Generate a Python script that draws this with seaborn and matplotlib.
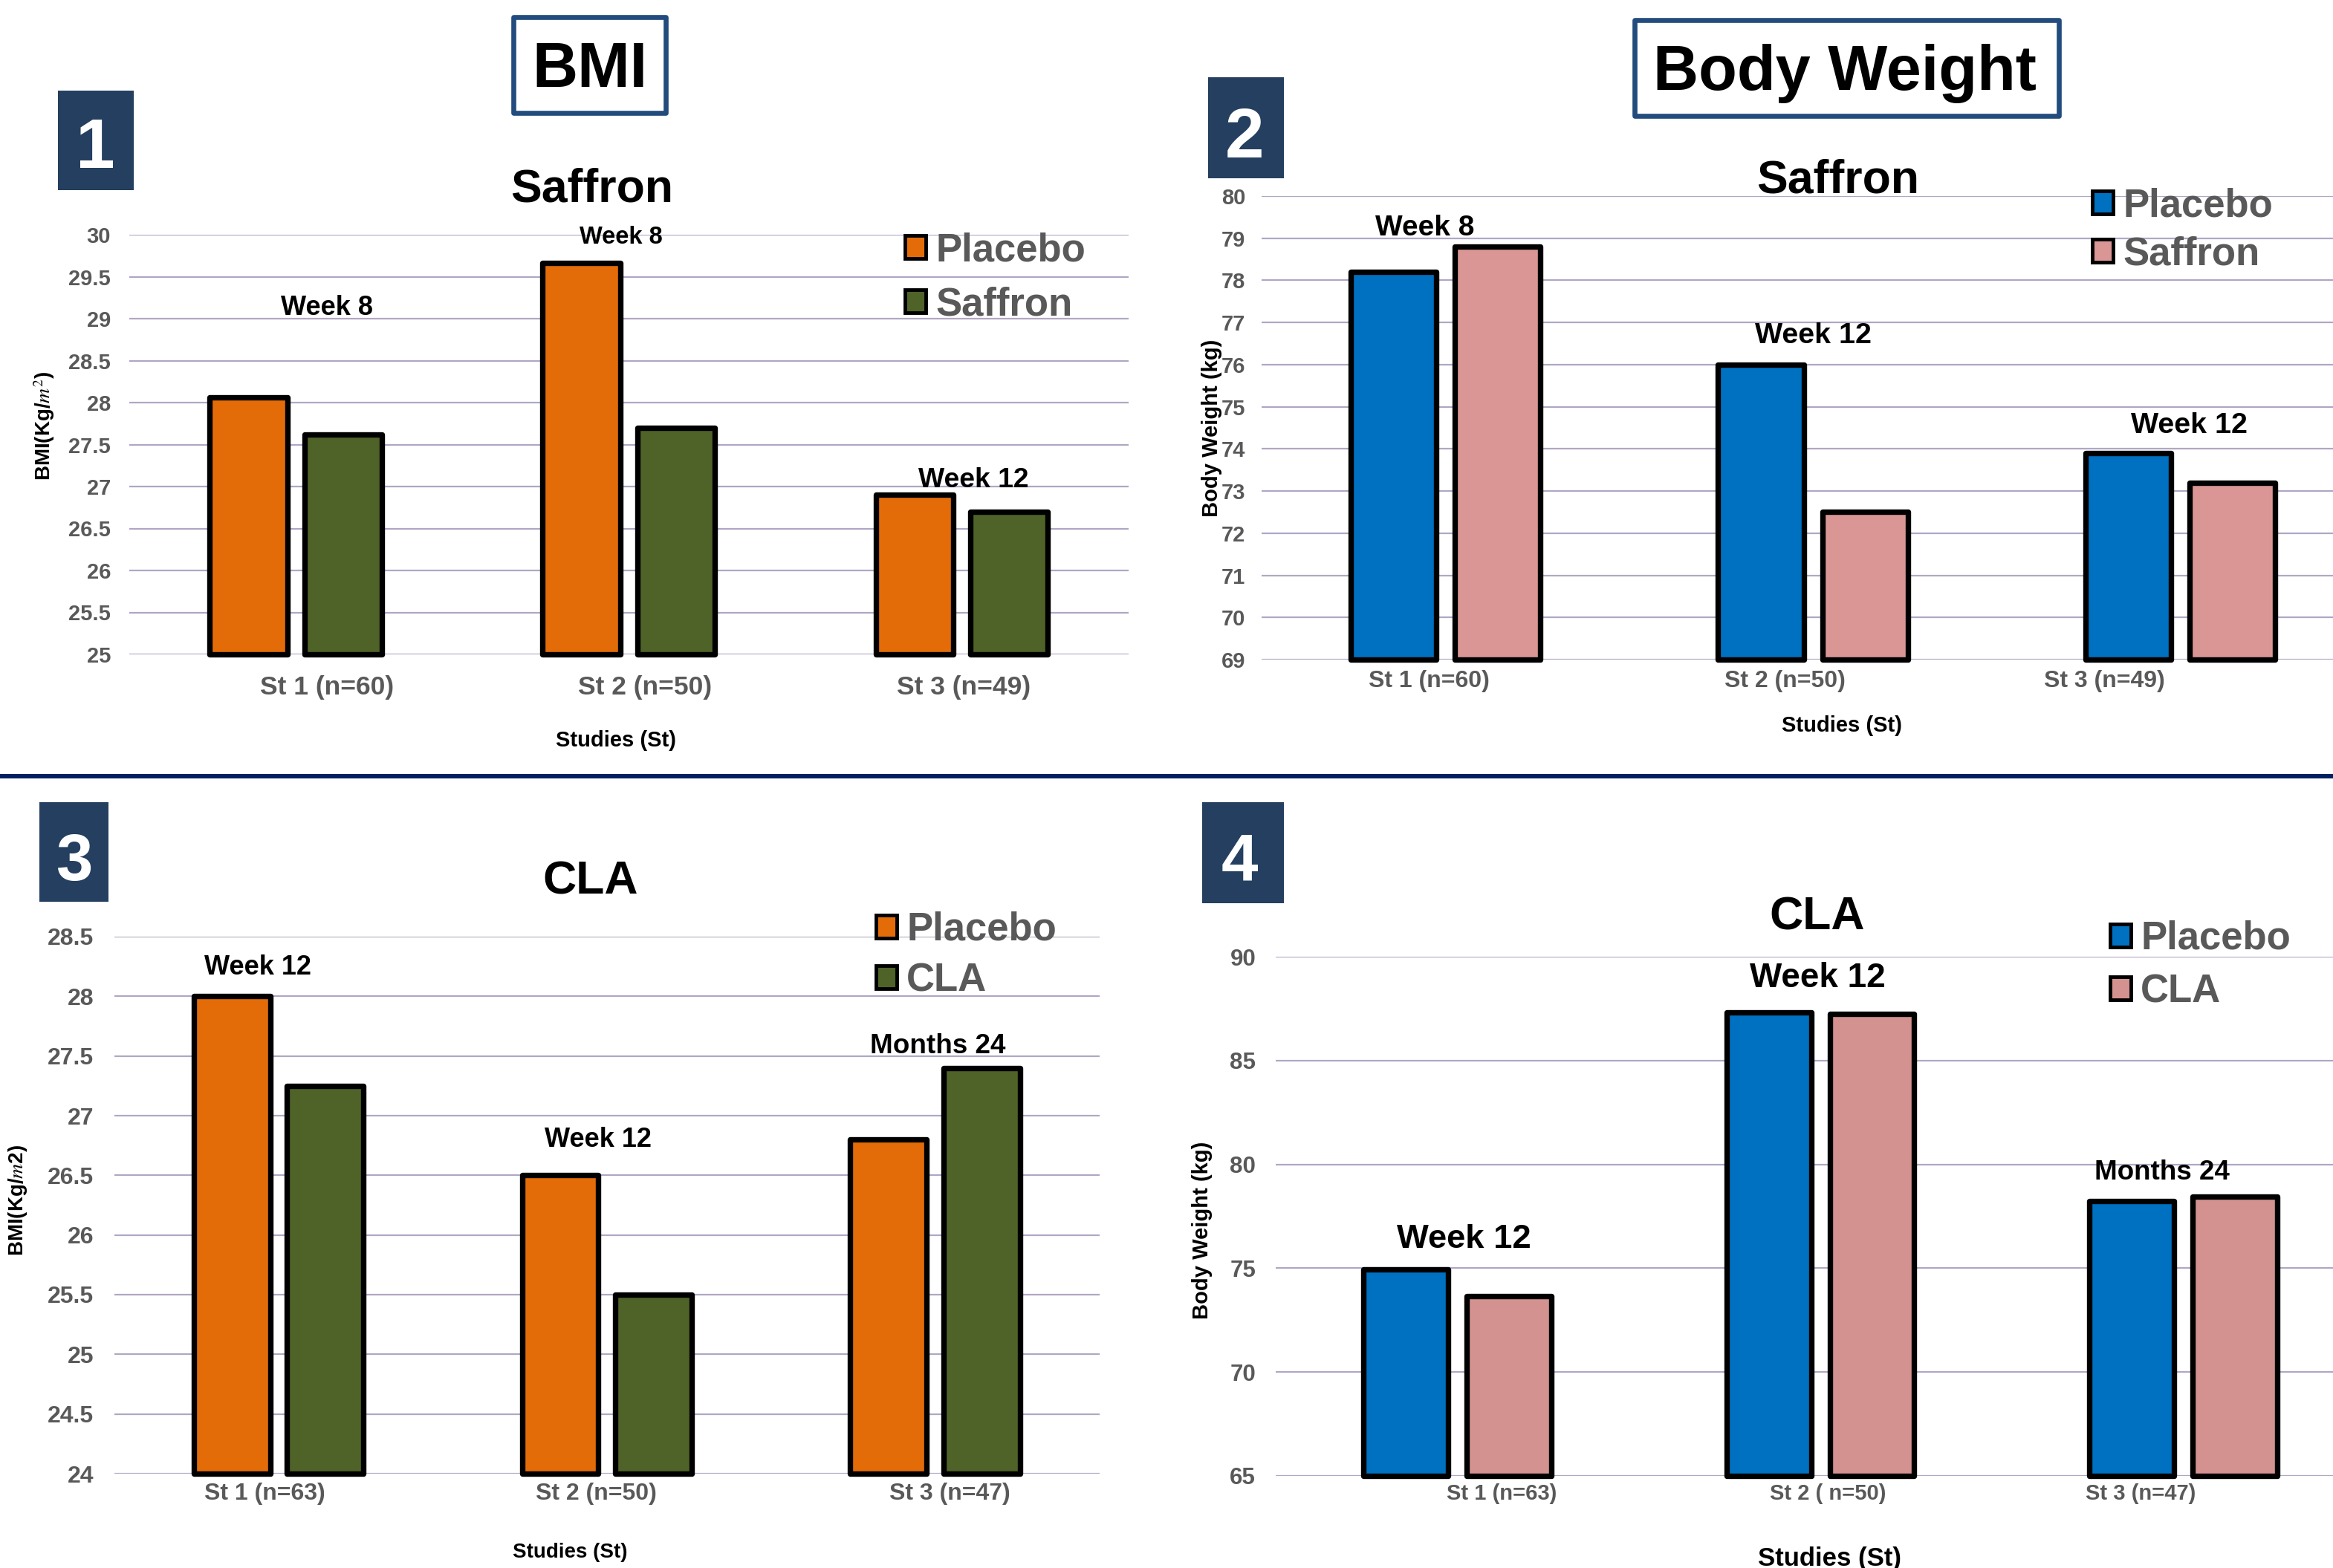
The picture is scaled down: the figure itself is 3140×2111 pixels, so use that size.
import numpy as np
import pandas as pd
import matplotlib
matplotlib.use("Agg")
import matplotlib.pyplot as plt
import matplotlib.transforms as mtransforms
from matplotlib.patches import Rectangle, Patch
from matplotlib.lines import Line2D
from matplotlib.ticker import FuncFormatter
import seaborn as sns

# ---------------------------------------------------------------- data
studies_saffron = ["St 1 (n=60)", "St 2 (n=50)", "St 3 (n=49)"]
bmi_saffron_placebo = [28.06, 29.66, 26.90]
bmi_saffron_treated = [27.62, 27.70, 26.70]
bmi_saffron_periods = ["Week 8", "Week 8", "Week 12"]

bw_saffron_placebo = [78.2, 76.0, 73.9]
bw_saffron_treated = [78.8, 72.5, 73.2]
bw_saffron_periods = ["Week 8", "Week 12", "Week 12"]

studies_cla_bmi = ["St 1 (n=63)", "St 2 (n=50)", "St 3 (n=47)"]
bmi_cla_placebo = [28.0, 26.5, 26.8]
bmi_cla_treated = [27.25, 25.5, 27.4]
bmi_cla_periods = ["Week 12", "Week 12", "Months 24"]

studies_cla_bw = ["St 1 (n=63)", "St 2 ( n=50)", "St 3 (n=47)"]
bw_cla_placebo = [74.95, 87.3, 78.25]
bw_cla_treated = [73.65, 87.25, 78.45]
bw_cla_periods = ["Week 12", "Week 12", "Months 24"]

# ---------------------------------------------------------------- style
sns.set_style("white")
plt.rcParams["font.family"] = ["Liberation Sans", "DejaVu Sans"]
plt.rcParams["mathtext.fontset"] = "stix"

W, H, DPI = 3140, 2111, 100
GRID = "#B0A7C4"
TICK = "#595959"
NAVY = "#243F60"
ORANGE, GREEN = "#E36C09", "#4F6228"
BLUE, PINK, PINK2 = "#0070C0", "#D99694", "#D3918F"


def fx(px):
    return px / W


def fy(py):
    return 1 - py / H


fig = plt.figure(figsize=(W / DPI, H / DPI), dpi=DPI)
fig.patch.set_facecolor("white")


def px_shift(dx):
    return mtransforms.ScaledTranslation(dx / DPI, 0, fig.dpi_scale_trans)


def panel(rect, xright, studies, placebo, treated, treat_name, colors,
          ylim, ystep, ytick_size, ytick_pad, xtick_size, xtick_pad,
          xtick_dx, ylabel, ylabel_size, ylabel_xy, xlabel_size, xlabel_xy,
          legend_xy, legend_spacing):
    l, t, r, b = rect
    ax = fig.add_axes([fx(l), fy(b), (r - l) / W, (b - t) / H])
    df = pd.DataFrame({
        "Study": list(studies) * 2,
        "Group": ["Placebo"] * len(studies) + [treat_name] * len(studies),
        "Value": list(placebo) + list(treated),
    })
    sns.barplot(data=df, x="Study", y="Value", hue="Group", order=studies,
                hue_order=["Placebo", treat_name], palette=colors,
                saturation=1, width=0.568, gap=0.18, errorbar=None,
                edgecolor="black", linewidth=5.3, legend=False, ax=ax)
    lo, hi = ylim
    # bars start at the bottom of the value axis
    for bar in ax.patches:
        top = bar.get_y() + bar.get_height()
        bar.set_y(lo)
        bar.set_height(top - lo)
        bar.set_clip_on(False)
        bar.set_joinstyle("round")
    ax.set_ylim(lo, hi)
    ax.set_xlim(-0.5, xright)
    ax.set_yticks(np.arange(lo, hi + ystep / 2, ystep))
    ax.yaxis.set_major_formatter(FuncFormatter(lambda v, _: f"{v:g}"))
    ax.grid(axis="y", color=GRID, linewidth=1.6)
    ax.grid(axis="x", visible=False)
    ax.set_axisbelow(True)
    for s in ax.spines.values():
        s.set_visible(False)
    ax.tick_params(axis="y", length=0, labelsize=ytick_size,
                   labelcolor=TICK, pad=ytick_pad)
    ax.tick_params(axis="x", length=0, labelsize=xtick_size,
                   labelcolor=TICK, pad=xtick_pad)
    for lbl in ax.get_yticklabels():
        lbl.set_fontweight("bold")
    for lbl, dx in zip(ax.get_xticklabels(), xtick_dx):
        lbl.set_fontweight("bold")
        lbl.set_transform(lbl.get_transform() + px_shift(dx))

    ax.set_ylabel(ylabel, fontsize=ylabel_size, fontweight="bold",
                  color="black")
    ax.yaxis.set_label_coords(fx(ylabel_xy[0]), fy(ylabel_xy[1]),
                              transform=fig.transFigure)
    ax.yaxis.label.set_va("center")
    ax.set_xlabel("Studies (St)", fontsize=xlabel_size, fontweight="bold",
                  color="black")
    ax.xaxis.set_label_coords(fx(xlabel_xy[0]), fy(xlabel_xy[1]),
                              transform=fig.transFigure)
    ax.xaxis.label.set_va("center_baseline")

    handles = [Patch(facecolor=c, edgecolor="black", linewidth=3.5)
               for c in colors]
    ax.legend(handles, ["Placebo", treat_name], loc="upper left",
              bbox_to_anchor=(fx(legend_xy[0] + 2.4), fy(legend_xy[1])),
              bbox_transform=fig.transFigure, frameon=False,
              handlelength=0.53, handleheight=0.53, handletextpad=0.24,
              labelspacing=legend_spacing, borderpad=0, borderaxespad=0,
              prop={"size": 38, "weight": "bold"}, labelcolor=TICK)
    return ax


# Panel 1: BMI, saffron
panel((174, 316, 1518.6, 881), 2.5, studies_saffron,
      bmi_saffron_placebo, bmi_saffron_treated, "Saffron", [ORANGE, GREEN],
      (25, 30), 0.5, 21, 18, 25.5, 20, [42, 22, 3],
      "BMI(Kg/$m^2$)", 20, (60, 573), 21, (829, 994),
      (1216, 312), 0.44)

# Panel 2: body weight, saffron
panel((1698.4, 264, W, 888), (W - 1698.4) / 494.5 - 0.5, studies_saffron,
      bw_saffron_placebo, bw_saffron_treated, "Saffron", [BLUE, PINK],
      (69, 80), 1, 21, 16, 23, 10, [-22, -38, -102],
      "Body Weight (kg)", 21, (1631, 576), 21, (2479, 974),
      (2814, 252), 0.29)

# Panel 3: BMI, CLA
panel((154, 1261, 1479.5, 1984), 2.5, studies_cla_bmi,
      bmi_cla_placebo, bmi_cla_treated, "CLA", [ORANGE, GREEN],
      (24, 28.5), 0.5, 23, 20, 23, 8.6, [-19, -14, 20],
      "BMI(Kg/$m$2)", 20, (24, 1616), 20, (767, 2087),
      (1177, 1227), 0.35)

# Panel 4: body weight, CLA
panel((1717.3, 1288, W, 1987), (W - 1717.3) / 488.5 - 0.5, studies_cla_bw,
      bw_cla_placebo, bw_cla_treated, "CLA", [BLUE, PINK2],
      (65, 90), 5, 22.5, 19.5, 21, 7, [60, 10, -57],
      "Body Weight (kg)", 21, (1618, 1656), 25, (2463, 2095),
      (2838, 1239), 0.41)

# ---------------------------------------------------------------- text
def label(x, y, s, size, color="black"):
    fig.text(fx(x), fy(y), s, ha="center", va="center_baseline",
             fontsize=size, fontweight="bold", color=color)


# panel titles
label(797, 249, "Saffron", 45)
label(2474, 236, "Saffron", 45)
label(795, 1181, "CLA", 45)
label(2446, 1229, "CLA", 45)

# study-duration notes above the bar pairs
for (x, y, s), size in zip(zip([440, 836, 1310], [411, 316, 642],
                               bmi_saffron_periods), [26, 23.5, 26.8]):
    label(x, y, s, size)
for (x, y, s), size in zip(zip([1918, 2440, 2946], [303, 448, 569],
                               bw_saffron_periods), [28, 28.4, 28.4]):
    label(x, y, s, size)
for (x, y, s), size in zip(zip([347, 805, 1262], [1298, 1530, 1404],
                               bmi_cla_periods), [26, 26, 26.6]):
    label(x, y, s, size)
for (x, y, s), size in zip(zip([1970, 2446, 2910], [1664, 1312, 1575],
                               bw_cla_periods), [32.7, 33, 26.5]):
    label(x, y, s, size)

# section headers in outlined boxes
for (x0, y0, x1, y1), s, (tx, ty) in [
        ((691, 23, 896, 152), "BMI", (794, 86)),
        ((2200, 27, 2771, 156), "Body Weight", (2483, 90))]:
    fig.add_artist(Rectangle((fx(x0), fy(y1)), (x1 - x0) / W,
                             (y1 - y0) / H, transform=fig.transFigure,
                             facecolor="white", edgecolor="#234C7E",
                             linewidth=4.8, joinstyle="round"))
    label(tx, ty, s, 61)

# numbered panel badges
for (x0, y0, x1, y1), s, (tx, ty), size in [
        ((78, 122, 180, 256), "1", (128, 191), 68),
        ((1626, 104, 1728, 240), "2", (1675, 177), 68),
        ((53, 1080, 146, 1214), "3", (100, 1153), 64),
        ((1618, 1080, 1728, 1216), "4", (1668, 1153), 64)]:
    fig.add_artist(Rectangle((fx(x0), fy(y1)), (x1 - x0) / W,
                             (y1 - y0) / H, transform=fig.transFigure,
                             facecolor=NAVY, edgecolor="none"))
    label(tx, ty, s, size, color="white")

# horizontal divider between the two rows
fig.add_artist(Line2D([0, 1], [fy(1045), fy(1045)], transform=fig.transFigure,
                      color="#002060", linewidth=4.3))

fig.savefig("out.png", dpi=DPI, facecolor="white")
